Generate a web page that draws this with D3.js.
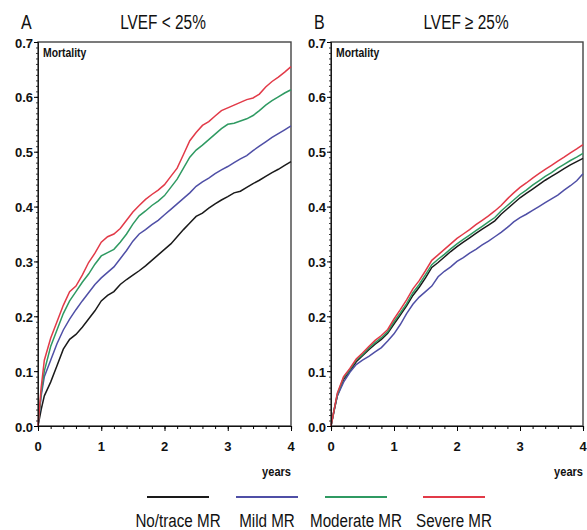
<!DOCTYPE html>
<html>
<meta charset="utf-8">
<script src="https://d3js.org/d3.v7.min.js"></script>
<style>
body { margin: 0; background: white; }
svg { font-family: "Liberation Sans", Arial, sans-serif; }
.tick-lbl { font-weight: bold; font-size: 13px; }
</style>
<body>
<div id="chart"></div>
<script>
// follow-up time, years
var years = [0, 0.05, 0.1, 0.2, 0.3, 0.4, 0.5, 0.6, 0.7, 0.8, 0.9, 1.0,
  1.1, 1.2, 1.3, 1.4, 1.5, 1.6, 1.7, 1.8, 1.9, 2.0, 2.1, 2.2, 2.3, 2.4, 2.5,
  2.6, 2.7, 2.8, 2.9, 3.0, 3.1, 3.2, 3.3, 3.4, 3.5, 3.6, 3.7, 3.8, 3.9, 4.0];

// panel A: LVEF < 25%
var aNone = [0, 0.03, 0.055, 0.08, 0.11, 0.14, 0.158, 0.167, 0.18, 0.195, 0.21, 0.228,
  0.238, 0.245, 0.258, 0.267, 0.275, 0.283, 0.292, 0.302, 0.312, 0.322, 0.332, 0.345, 0.358, 0.37, 0.382,
  0.388, 0.397, 0.405, 0.412, 0.418, 0.425, 0.428, 0.435, 0.442, 0.448, 0.455, 0.462, 0.468, 0.475, 0.482];
var aMild = [0, 0.055, 0.09, 0.12, 0.15, 0.175, 0.195, 0.212, 0.228, 0.243, 0.258, 0.27,
  0.28, 0.29, 0.305, 0.32, 0.337, 0.35, 0.358, 0.367, 0.375, 0.385, 0.395, 0.405, 0.415, 0.425, 0.437,
  0.445, 0.452, 0.46, 0.467, 0.473, 0.48, 0.487, 0.493, 0.502, 0.51, 0.518, 0.526, 0.533, 0.54, 0.547];
var aModerate = [0, 0.06, 0.1, 0.145, 0.175, 0.205, 0.228, 0.245, 0.262, 0.277, 0.295, 0.31,
  0.316, 0.322, 0.335, 0.35, 0.368, 0.383, 0.392, 0.402, 0.41, 0.42, 0.435, 0.45, 0.47, 0.49, 0.503,
  0.512, 0.522, 0.532, 0.542, 0.55, 0.552, 0.556, 0.56, 0.566, 0.575, 0.585, 0.593, 0.6, 0.607, 0.613];
var aSevere = [0, 0.07, 0.12, 0.16, 0.19, 0.22, 0.245, 0.255, 0.275, 0.298, 0.315, 0.335,
  0.345, 0.35, 0.36, 0.375, 0.39, 0.402, 0.413, 0.422, 0.43, 0.44, 0.455, 0.47, 0.495, 0.52, 0.535,
  0.548, 0.555, 0.565, 0.575, 0.58, 0.585, 0.59, 0.595, 0.598, 0.605, 0.618, 0.628, 0.636, 0.645, 0.655];

// panel B: LVEF >= 25%
var bNone = [0, 0.028, 0.055, 0.085, 0.1, 0.117, 0.128, 0.139, 0.149, 0.158, 0.169, 0.186,
  0.202, 0.219, 0.238, 0.253, 0.27, 0.289, 0.298, 0.308, 0.318, 0.327, 0.335, 0.343, 0.351, 0.359, 0.366,
  0.374, 0.386, 0.396, 0.406, 0.416, 0.424, 0.432, 0.44, 0.448, 0.455, 0.462, 0.469, 0.476, 0.482, 0.488];
var bMild = [0, 0.03, 0.055, 0.08, 0.098, 0.112, 0.12, 0.127, 0.135, 0.143, 0.155, 0.168,
  0.185, 0.205, 0.222, 0.235, 0.245, 0.255, 0.272, 0.282, 0.29, 0.3, 0.307, 0.315, 0.322, 0.33, 0.337,
  0.345, 0.353, 0.362, 0.372, 0.38, 0.386, 0.393, 0.4, 0.407, 0.414, 0.421, 0.43, 0.438, 0.447, 0.46];
var bModerate = [0, 0.03, 0.058, 0.088, 0.103, 0.12, 0.13, 0.142, 0.152, 0.161, 0.172, 0.19,
  0.206, 0.223, 0.243, 0.258, 0.276, 0.294, 0.304, 0.313, 0.323, 0.332, 0.34, 0.348, 0.356, 0.364, 0.372,
  0.38, 0.392, 0.402, 0.412, 0.422, 0.43, 0.439, 0.447, 0.455, 0.462, 0.47, 0.477, 0.484, 0.49, 0.497];
var bSevere = [0, 0.03, 0.06, 0.09, 0.105, 0.122, 0.133, 0.145, 0.156, 0.165, 0.176, 0.195,
  0.212, 0.23, 0.25, 0.265, 0.283, 0.302, 0.312, 0.322, 0.332, 0.342, 0.35, 0.358, 0.367, 0.375, 0.383,
  0.392, 0.402, 0.414, 0.425, 0.435, 0.443, 0.452, 0.46, 0.468, 0.475, 0.483, 0.49, 0.498, 0.505, 0.513];

var groupNames = ["No/trace MR", "Mild MR", "Moderate MR", "Severe MR"];
var groupColors = ["#1a1a1a", "#4f4fa6", "#2f9a62", "#e23a48"];
var yTickVals = [0, 0.1, 0.2, 0.3, 0.4, 0.5, 0.6, 0.7];
var xTickVals = [0, 1, 2, 3, 4];

var W = 587, H = 530;
var svg = d3.select("#chart").append("svg").attr("width", W).attr("height", H);

// narrow text helper (the original uses a condensed face)
function txt(x, y, s, size, anchor, bold, sx) {
  return svg.append("text")
    .attr("transform", "translate(" + x + "," + y + ") scale(" + sx + ",1)")
    .attr("text-anchor", anchor)
    .style("font-size", size + "px")
    .style("font-weight", bold ? "bold" : "normal")
    .attr("fill", "#111")
    .text(s);
}

var y = d3.scaleLinear().domain([0, 0.7]).range([426, 42]);

var panels = [
  { letter: "A", title: "LVEF < 25%", left: 38, right: 291, titleX: 163, data: [aNone, aMild, aModerate, aSevere] },
  { letter: "B", title: "LVEF \u2265 25%", left: 331, right: 583, titleX: 466, data: [bNone, bMild, bModerate, bSevere] }
];

panels.forEach(function(p) {
  var x = d3.scaleLinear().domain([0, 4]).range([p.left, p.right]);

  // frame
  svg.append("rect")
    .attr("x", p.left).attr("y", y(0.7))
    .attr("width", p.right - p.left).attr("height", y(0) - y(0.7))
    .attr("fill", "none").attr("stroke", "#444").attr("stroke-width", 1.4);

  // curves
  var line = d3.line()
    .x(function(d, i) { return x(years[i]); })
    .y(function(d) { return y(d); });
  p.data.forEach(function(vals, k) {
    svg.append("path")
      .datum(vals)
      .attr("d", line)
      .attr("fill", "none")
      .attr("stroke", groupColors[k])
      .attr("stroke-width", 1.5);
  });

  // y axis: minor ticks give the dotted spine
  var yMinor = svg.append("g").attr("transform", "translate(" + p.left + ",0)")
    .call(d3.axisLeft(y).tickValues(d3.range(0, 0.7001, 0.01)).tickSize(2).tickFormat(""));
  yMinor.select(".domain").attr("stroke-width", 0.8);
  yMinor.selectAll(".tick line").attr("stroke", "#222").attr("stroke-width", 0.9);
  svg.append("g").attr("transform", "translate(" + p.left + ",0)")
    .call(d3.axisLeft(y).tickValues(yTickVals).tickSize(4).tickFormat(""))
    .select(".domain").remove();
  yTickVals.forEach(function(v) {
    svg.append("text").attr("class", "tick-lbl")
      .attr("x", p.left - 5).attr("y", y(v) + 1).attr("dy", "0.35em")
      .attr("text-anchor", "end").attr("fill", "#111")
      .text(d3.format(".1f")(v));
  });

  // x axis
  var xMinor = svg.append("g").attr("transform", "translate(0," + y(0) + ")")
    .call(d3.axisBottom(x).tickValues(d3.range(0, 4.001, 0.2)).tickSize(3).tickFormat(""));
  xMinor.select(".domain").attr("stroke-width", 1.2).attr("stroke", "#111");
  svg.append("g").attr("transform", "translate(0," + y(0) + ")")
    .call(d3.axisBottom(x).tickValues(xTickVals).tickSize(5).tickFormat(""))
    .select(".domain").remove();
  xTickVals.forEach(function(v) {
    svg.append("text").attr("class", "tick-lbl")
      .attr("x", x(v)).attr("y", 451)
      .attr("text-anchor", "middle").attr("fill", "#111")
      .text(v);
  });

  txt(p.right, 476, "years", 13.5, "end", true, 0.82);
  txt(p.left + 5, 57, "Mortality", 13, "start", true, 0.8);

  // titles
  txt(p.left - 17, 29, p.letter, 20, "start", false, 0.8);
  txt(p.titleX, 29, p.title, 20, "middle", false, 0.77);
});

// legend
var legX = [147, 236, 325, 423];
groupNames.forEach(function(name, k) {
  svg.append("line")
    .attr("x1", legX[k]).attr("x2", legX[k] + 62)
    .attr("y1", 497).attr("y2", 497)
    .attr("stroke", groupColors[k]).attr("stroke-width", 2);
  txt(legX[k] + 31, 527, name, 19, "middle", false, 0.8);
});
</script>
</body>
</html>
